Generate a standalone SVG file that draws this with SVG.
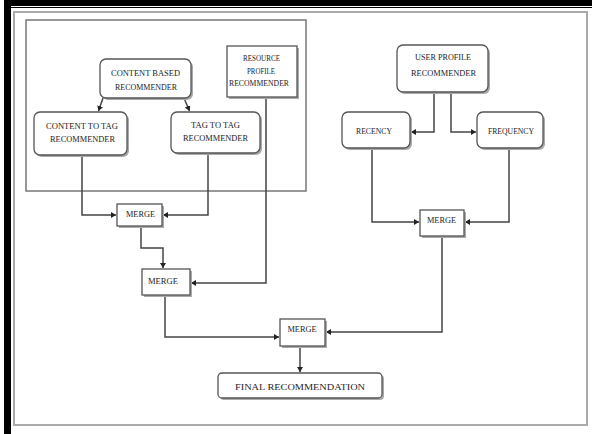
<svg xmlns="http://www.w3.org/2000/svg" width="592" height="434" viewBox="0 0 592 434">
<style>
.box{fill:#fff;stroke:#555;stroke-width:1.3}
.sh{fill:#aaa;stroke:none}
.t{font-family:"Liberation Serif","Times New Roman",serif;font-size:8px;fill:#222;text-anchor:middle}
.c{fill:none;stroke:#444;stroke-width:1.5}
</style>
<defs>
<marker id="ah" markerUnits="userSpaceOnUse" markerWidth="7" markerHeight="7" refX="5" refY="3" orient="auto">
<path d="M0,0 L5,3 L0,6 z" fill="#222"/>
</marker>
</defs>
<rect width="592" height="434" fill="#fff"/>
<rect x="4" y="0" width="588" height="8" fill="#000"/>
<line x1="11" y1="6.5" x2="592" y2="6.5" stroke="#fff" stroke-width="1"/>
<rect x="4" y="0" width="7" height="434" fill="#000"/>
<rect x="14" y="12" width="573" height="413" fill="none" stroke="#aaa" stroke-width="2"/>
<rect x="26" y="20" width="280" height="171" fill="none" stroke="#777" stroke-width="1.5"/>

<g id="connectors">
<path class="c" d="M103,98 L98.5,111" marker-end="url(#ah)"/>
<path class="c" d="M184,98 L189.5,111" marker-end="url(#ah)"/>
<path class="c" d="M82,155 V215 H116" marker-end="url(#ah)"/>
<path class="c" d="M208,153 V215 H163" marker-end="url(#ah)"/>
<path class="c" d="M141,226 V248 H163 V268" marker-end="url(#ah)"/>
<path class="c" d="M266,97 V283 H191" marker-end="url(#ah)"/>
<path class="c" d="M434,92 V132 H411" marker-end="url(#ah)"/>
<path class="c" d="M451,92 V132 H476" marker-end="url(#ah)"/>
<path class="c" d="M372,148 V222 H419" marker-end="url(#ah)"/>
<path class="c" d="M509,148 V222 H465" marker-end="url(#ah)"/>
<path class="c" d="M165,295 V337 H279" marker-end="url(#ah)"/>
<path class="c" d="M442,236 V332 H326" marker-end="url(#ah)"/>
<path class="c" d="M300,346 V372" marker-end="url(#ah)"/>
</g>

<g id="content-based">
<rect class="sh" x="102" y="61" width="91" height="39" rx="6"/>
<rect class="box" x="100" y="59" width="91" height="39" rx="6"/>
<text class="t" x="145.5" y="75.8" textLength="69" lengthAdjust="spacingAndGlyphs">CONTENT BASED</text>
<text class="t" x="146" y="89.8" textLength="62" lengthAdjust="spacingAndGlyphs">RECOMMENDER</text>
</g>

<g id="content-to-tag">
<rect class="sh" x="36" y="114" width="93" height="43" rx="6"/>
<rect class="box" x="34" y="112" width="93" height="43" rx="6"/>
<text class="t" x="82" y="128.5" textLength="72" lengthAdjust="spacingAndGlyphs">CONTENT TO TAG</text>
<text class="t" x="82.5" y="141.8" textLength="65" lengthAdjust="spacingAndGlyphs">RECOMMENDER</text>
</g>

<g id="tag-to-tag">
<rect class="sh" x="173" y="114" width="89" height="41" rx="6"/>
<rect class="box" x="171" y="112" width="89" height="41" rx="6"/>
<text class="t" x="215.5" y="127.8" textLength="49" lengthAdjust="spacingAndGlyphs">TAG TO TAG</text>
<text class="t" x="215.5" y="140.8" textLength="65" lengthAdjust="spacingAndGlyphs">RECOMMENDER</text>
</g>

<g id="resource-profile">
<rect class="sh" x="229" y="48" width="70" height="51"/>
<rect class="box" x="227" y="46" width="70" height="51"/>
<text class="t" x="261.5" y="60.6" font-size="7.5" textLength="37" lengthAdjust="spacingAndGlyphs">RESOURCE</text>
<text class="t" x="261" y="73.6" font-size="7.5" textLength="28" lengthAdjust="spacingAndGlyphs">PROFILE</text>
<text class="t" x="259" y="85.6" font-size="7.5" textLength="60" lengthAdjust="spacingAndGlyphs">RECOMMENDER</text>
</g>

<g id="user-profile">
<rect class="sh" x="399" y="47" width="91" height="47" rx="6"/>
<rect class="box" x="397" y="45" width="91" height="47" rx="6"/>
<text class="t" x="443" y="59.8" textLength="56" lengthAdjust="spacingAndGlyphs">USER PROFILE</text>
<text class="t" x="443.5" y="75.8" textLength="65" lengthAdjust="spacingAndGlyphs">RECOMMENDER</text>
</g>

<g id="recency">
<rect class="sh" x="344" y="114" width="68" height="36" rx="6"/>
<rect class="box" x="342" y="112" width="68" height="36" rx="6"/>
<text class="t" x="374" y="133.8" textLength="36" lengthAdjust="spacingAndGlyphs">RECENCY</text>
</g>

<g id="frequency">
<rect class="sh" x="479" y="114" width="66" height="36" rx="6"/>
<rect class="box" x="477" y="112" width="66" height="36" rx="6"/>
<text class="t" x="511" y="133.8" textLength="46" lengthAdjust="spacingAndGlyphs">FREQUENCY</text>
</g>

<g id="merge1">
<rect class="sh" x="119" y="206" width="45" height="22"/>
<rect class="box" x="117" y="204" width="45" height="22"/>
<text class="t" x="140.5" y="216.8" textLength="29" lengthAdjust="spacingAndGlyphs">MERGE</text>
</g>

<g id="merge2">
<rect class="sh" x="144" y="271" width="48" height="26"/>
<rect class="box" x="142" y="269" width="48" height="26"/>
<text class="t" x="163" y="283.8" textLength="30" lengthAdjust="spacingAndGlyphs">MERGE</text>
</g>

<g id="merge3">
<rect class="sh" x="422" y="212" width="44" height="26"/>
<rect class="box" x="420" y="210" width="44" height="26"/>
<text class="t" x="441.5" y="222.8" textLength="29" lengthAdjust="spacingAndGlyphs">MERGE</text>
</g>

<g id="merge4">
<rect class="sh" x="282" y="321" width="45" height="27"/>
<rect class="box" x="280" y="319" width="45" height="27"/>
<text class="t" x="302" y="331.8" textLength="29" lengthAdjust="spacingAndGlyphs">MERGE</text>
</g>

<g id="final">
<rect class="sh" x="220" y="375" width="164" height="25" rx="4"/>
<rect class="box" x="218" y="373" width="164" height="25" rx="4"/>
<text class="t" x="300" y="390.3" font-size="9.5" textLength="130" lengthAdjust="spacingAndGlyphs">FINAL RECOMMENDATION</text>
</g>
</svg>
